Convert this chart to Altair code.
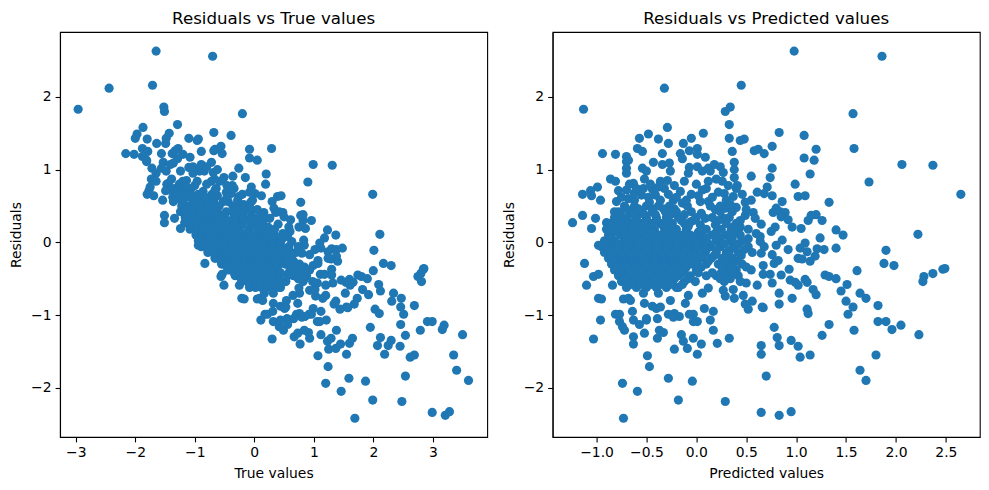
import altair as alt
import pandas as pd

pred_outer = [.98,1.86,1.57,.83,1.08,.76,.68,1.20,1.58,1.08,1.18,2.06,2.37,.76,1.14,.74,1.73,.99,.71,.76,
 .68,1.02,1.09,2.65,.86,1.33,.80,.77,.84,.89,.85,.92,1.12,1.15,1.20,1.26,.65,.96,1.05,.79,
 .75,1.40,1.47,2.22,1.24,.86,1.09,.80,.68,.64,1.04,.92,1.21,1.28,1.40,1.90,1.11,.76,.65,1.02,
 1.06,1.19,1.14,.82,.78,1.88,1.98,.67,.93,1.61,2.47,2.49,2.37,2.28,2.27,.67,.74,.85,1.29,1.33,
 1.40,1.09,1.51,.94,.99,1.02,1.11,.76,1.17,1.45,1.64,.83,1.20,1.70,.96,1.50,.83,1.82,.67,1.57,
 1.11,1.12,1.52,1.82,1.90,1.33,2.05,1.96,1.58,.78,1.26,2.23,.81,.95,1.02,.83,.65,.65,1.14,1.04,
 1.80,.70,1.64,1.70,.65,.83,.95]
res_outer = [2.63,2.56,1.77,1.51,1.47,1.32,1.22,1.28,1.29,1.16,1.13,1.07,1.06,1.02,.94,.89,.83,.80,.76,.64,
 .67,.63,.64,.66,.56,.55,.47,.41,.42,.41,.35,.31,.30,.37,.38,.30,.25,.21,.19,.21,
 .15,.17,.10,.11,.06,.03,-.01,-.04,-.06,.01,-.08,-.10,-.09,-.10,-.08,-.11,-.13,-.17,-.15,-.22,
 -.23,-.19,-.26,-.25,-.29,-.29,-.32,-.32,-.37,-.39,-.37,-.36,-.43,-.47,-.54,-.44,-.44,-.45,-.45,-.47,
 -.50,-.51,-.58,-.52,-.55,-.59,-.55,-.56,-.65,-.67,-.70,-.70,-.72,-.77,-.77,-.81,-.85,-.87,-.90,-.89,
 -.92,-.98,-.99,-1.09,-1.09,-1.13,-1.14,-1.20,-1.21,-1.17,-1.28,-1.27,-1.31,-1.35,-1.43,-1.42,-1.42,-1.54,-1.55,-1.58,
 -1.55,-1.84,-1.76,-1.90,-2.34,-2.38,-2.33]
true_outer = [-1.65,-.70,-.20,-.68,-.39,-.56,-.54,-.08,.29,-.08,.05,.99,1.31,-.26,.20,-.15,.90,.19,-.05,.12,
 .01,.39,.45,1.99,.30,.78,.33,.36,.42,.48,.50,.61,.82,.78,.82,.96,.40,.75,.86,.58,
 .60,1.23,1.37,2.11,1.18,.83,1.10,.84,.74,.63,1.12,1.02,1.30,1.38,1.48,2.01,1.24,.93,.80,1.24,
 1.29,1.38,1.40,1.07,1.07,2.17,2.30,.99,1.30,2.00,2.84,2.85,2.80,2.75,2.81,1.11,1.18,1.30,1.74,1.80,
 1.90,1.60,2.09,1.46,1.54,1.61,1.66,1.32,1.82,2.12,2.34,1.53,1.92,2.47,1.73,2.31,1.68,2.69,1.57,2.46,
 2.03,2.10,2.51,2.91,2.99,2.46,3.19,3.16,2.79,1.95,2.54,3.50,2.12,2.30,2.45,2.25,2.07,2.19,2.69,2.62,
 3.35,2.54,3.40,3.60,2.99,3.21,3.28]

pred_low = [-1.12,-1.03,-.98,-1.10,-.98,-.95,-.96,-1.03,-.81,-.77,-.77,-.74,-.72,-.73,-.68,-.66,-.64,-.63,-.57,-.50,
 -.50,-.52,-.63,-.63,-.49,-.47,-.74,-.59,-.73,-.28,-.04,-.18,.29,-.39,-.37,-.33,-.22,-.15,-.13,-.09,
 -.03,.01,.05,.21,.33,.17,.14,.17,.08,-.03,-.07,-.03,.01,-.17,-.22,-.28,-.23,-.39,-.40,-.44,
 -.36,-.26,-.11,-.52,.66,.56,.52,.49,.47,.38,.29,.37,.27,.06,.12,-.08,-.84,.61,.50,-.53,
 -.38,-.18,-.01]
res_low = [-.29,-.47,-.44,-.59,-.77,-.78,-1.07,-1.33,-.99,-.99,-1.09,-1.16,-1.21,-.78,-.77,-.80,-.95,-1.07,-1.13,-1.05,
 -1.07,-1.25,-1.30,-1.40,-1.56,-1.71,-1.94,-2.05,-2.42,-1.87,-1.91,-2.17,-2.19,-1.32,-1.21,-1.24,-1.47,-1.27,-1.36,-1.46,
 -1.32,-1.54,-1.40,-1.39,-1.32,-1.21,-1.07,-.95,-.91,-.99,-.99,-1.09,-1.09,-1.02,-.98,-.99,-1.03,-1.05,-.91,-.88,
 -.89,-.80,-.84,-.84,-.89,-.81,-.92,-.85,-.73,-.77,-.74,-.65,-.66,-.70,-.63,-.73,-.59,-.59,-.56,-.70,
 -.70,-.62,-.54]
true_low = [-.83,-.56,-.54,-.51,-.21,-.17,.11,.30,.18,.22,.32,.42,.49,.05,.09,.14,.31,.44,.56,.55,
 .57,.73,.67,.77,1.07,1.24,1.20,1.46,1.69,1.59,1.87,1.99,2.48,.93,.84,.91,1.25,1.12,1.23,1.37,
 1.29,1.55,1.45,1.60,1.65,1.38,1.21,1.12,.99,.96,.92,1.06,1.10,.85,.76,.71,.80,.66,.51,.44,
 .53,.54,.73,.32,1.55,1.37,1.44,1.34,1.20,1.15,1.03,1.02,.93,.76,.75,.65,-.25,1.20,1.06,.17,
 .32,.44,.53]

pred_up = [-.32,.45,-1.13,.34,.29,.33,-.29,-.48,-.57,-.38,-.28,.07,-.05,-.13,.33,.44,.48,-.59,-.54,-.94,
 -.81,-.70,-.34,-.16,-.14,-.07,.01,.01,.09,.36,.58,.62,-.70,-.68,-.43,-.34,-.27,.38,-.70,-.70,
 -.54,-.50,-.26,-.07,-.08,.01,.06,.12,.14,.18,.24,.27,.38,-.86,-.81,-.67,-.63,-.52,-.36,-.29,
 .38,.55,.12,.20,0,.41,-.78,-.99,-1.06,-1.14,-1.05,-.96,-.53,-.44,-.32,-.16,-.05,.10,.22,.28,
 .37,.40,.61,.55,.49,.29,.40,-1.14,-1.24,-1.01,-1.05,-.90,-.78,-.98,-.80,-.82,-.68,-.55,-.41,-.23,
 -.14,.04,.12,.19,.05,.04,.09,.57,.49,.59,.27,.19,.44,.52,.64,-.06]
res_up = [2.12,2.16,1.83,1.86,1.80,1.62,1.58,1.49,1.43,1.42,1.36,1.50,1.43,1.36,1.43,1.40,1.42,1.29,1.25,1.22,
 1.21,1.18,1.22,1.22,1.15,1.26,1.29,1.21,1.17,1.25,1.26,1.28,1.11,1.13,1.10,1.07,1.09,1.10,1.02,.95,
 1.02,.98,.98,1.03,.95,1.04,.98,1.02,.98,1.07,1.04,.96,1.00,.87,.84,.80,.81,.87,.84,.85,
 .89,.91,.84,.87,.80,.78,.71,.76,.71,.66,.64,.58,.74,.73,.74,.70,.66,.74,.69,.67,
 .63,.74,.69,.58,.55,.47,.48,.37,.27,.33,.19,.27,.26,-.04,.56,.42,.60,.65,.65,.58,
 .54,.56,.56,.45,.40,.24,.33,.41,.37,.33,.33,.24,.21,.05,.08,.28]
true_up = [-2.44,-1.71,-2.96,-1.52,-1.51,-1.29,-1.87,-1.97,-2.00,-1.80,-1.64,-1.43,-1.48,-1.49,-1.10,-.96,-.94,-1.88,-1.79,-2.16,
 -2.02,-1.88,-1.56,-1.38,-1.29,-1.33,-1.28,-1.20,-1.08,-.89,-.68,-.66,-1.81,-1.81,-1.53,-1.41,-1.36,-.72,-1.72,-1.65,
 -1.56,-1.48,-1.24,-1.10,-1.03,-1.03,-.92,-.90,-.84,-.89,-.80,-.69,-.62,-1.73,-1.65,-1.47,-1.44,-1.39,-1.20,-1.14,
 -.51,-.36,-.72,-.67,-.80,-.37,-1.49,-1.75,-1.77,-1.80,-1.69,-1.54,-1.27,-1.17,-1.06,-.86,-.71,-.64,-.47,-.39,
 -.26,-.34,-.08,-.03,-.06,-.18,-.08,-1.51,-1.51,-1.34,-1.24,-1.17,-1.04,-.94,-1.36,-1.24,-1.28,-1.20,-1.06,-.81,
 -.68,-.52,-.44,-.26,-.35,-.20,-.24,.16,.12,.26,-.06,-.05,.23,.47,.56,-.34]

pred_core = [-.72,-.62,-.50,-.38,-.27,-.09,.14,
 -.78,-.66,-.55,-.44,-.31,-.2,-.05,.24,.36,
 -.82,-.7,-.6,-.5,-.4,-.3,-.18,0,.16,.33,
 -.86,-.75,-.66,-.56,-.46,-.36,-.24,-.12,.3,.4,
 -.9,-.8,-.7,-.6,-.5,-.42,-.3,-.2,-.1,.1,.25,.35,
 -.88,-.76,-.66,-.56,-.47,-.37,-.27,-.16,-.06,.05,.16,.3,.44,
 -.92,-.82,-.72,-.62,-.52,-.42,-.33,-.23,-.13,-.03,.08,.2,.34,.46,
 -.95,-.85,-.75,-.65,-.56,-.46,-.36,-.26,-.16,-.06,.05,.14,.24,.38,.52,
 -.92,-.82,-.72,-.62,-.52,-.42,-.32,-.22,-.12,-.02,.09,.2,.3,.42,.56,
 -.88,-.78,-.68,-.58,-.48,-.38,-.28,-.18,-.08,.04,.15,.26,.36,
 -.85,-.75,-.65,-.55,-.45,-.35,-.25,-.15,-.04,.1,.22,.32,.46,
 -.82,-.72,-.62,-.52,-.42,-.32,-.22,-.12,0,.3,.4,.55,
 -.78,-.68,-.58,-.48,-.38,-.28,-.18,-.06,.1,.2,.3,.42,
 -.75,-.64,-.54,-.44,-.34,-.24,-.12,.28,.44,
 -.7,-.6,-.5,-.4,-.3,-.2]
res_core = [.50]*7 + [.42]*9 + [.34]*10 + [.26]*10 + [.18]*12 + [.10]*13 + [.02]*14 + [-.06]*15 + [-.14]*15 + [-.22]*13 + [-.30]*13 + [-.38]*12 + [-.46]*12 + [-.54]*9 + [-.62]*6
true_core = [-1.22,-1.12,-1.00,-.88,-.77,-.59,-.36,
 -1.20,-1.08,-.97,-.86,-.73,-.62,-.47,-.18,-.06,
 -1.16,-1.04,-.94,-.84,-.74,-.64,-.52,-.34,-.18,-.01,
 -1.12,-1.01,-.92,-.82,-.72,-.62,-.50,-.38,.04,.14,
 -1.08,-.98,-.88,-.78,-.68,-.60,-.48,-.38,-.28,-.08,.07,.17,
 -.98,-.86,-.76,-.66,-.57,-.47,-.37,-.26,-.16,-.05,.06,.20,.34,
 -.94,-.84,-.74,-.64,-.54,-.44,-.35,-.25,-.15,-.05,.06,.18,.32,.44,
 -.89,-.79,-.69,-.59,-.50,-.40,-.30,-.20,-.10,0,.11,.20,.30,.44,.58,
 -.78,-.68,-.58,-.48,-.38,-.28,-.18,-.08,.02,.12,.23,.34,.44,.56,.70,
 -.66,-.56,-.46,-.36,-.26,-.16,-.06,.04,.14,.26,.37,.48,.58,
 -.55,-.45,-.35,-.25,-.15,-.05,.05,.15,.26,.40,.52,.62,.76,
 -.44,-.34,-.24,-.14,-.04,.06,.16,.26,.38,.68,.78,.93,
 -.32,-.22,-.12,-.02,.08,.18,.28,.40,.56,.66,.76,.88,
 -.21,-.10,0,.10,.20,.30,.42,.82,.98,
 -.08,.02,.12,.22,.32,.42]

pred_mid = [-.70,-.58,-.44,-.33,-.22,
 -.76,-.63,-.52,-.41,-.26,-.12,
 -.80,-.70,-.60,-.50,-.40,-.29,-.15,-.03,.22,
 -.85,-.74,-.64,-.54,-.45,-.33,-.25,-.08,.38,
 -.82,-.72,-.62,-.52,-.44,-.32,-.22,-.1,.02,.2,.38,
 -.86,-.7,-.6,-.5,-.42,-.32,-.2,-.1,0,.1,.24,.36,
 -.9,-.78,-.68,-.58,-.48,-.38,-.28,-.18,-.08,.02,.12,.28,.42,
 -.88,-.78,-.7,-.6,-.5,-.4,-.3,-.2,-.1,0,.1,.2,.34,.48,
 -.84,-.74,-.64,-.54,-.44,-.34,-.24,-.14,-.04,.06,.18,.33,.45,
 -.82,-.72,-.62,-.52,-.42,-.32,-.22,-.12,0,.12,.3,.4,
 -.8,-.7,-.6,-.5,-.4,-.3,-.2,-.1,.05,.26,.36,.5,
 -.76,-.66,-.56,-.46,-.36,-.26,-.14,.02,.16,.25,.36,
 -.72,-.62,-.52,-.42,-.32,-.22,-.08,.24,.34,
 -.66,-.56,-.46,-.36,-.26,-.14]
res_mid = [.46]*5 + [.38]*6 + [.30]*9 + [.22]*9 + [.14]*11 + [.06]*12 + [-.02]*13 + [-.10]*14 + [-.18]*13 + [-.26]*12 + [-.34]*12 + [-.42]*11 + [-.50]*9 + [-.58]*6
true_mid = [-1.16,-1.04,-.90,-.79,-.68,
 -1.14,-1.01,-.90,-.79,-.64,-.50,
 -1.10,-1.00,-.90,-.80,-.70,-.59,-.45,-.33,-.08,
 -1.07,-.96,-.86,-.76,-.67,-.55,-.47,-.30,.16,
 -.96,-.86,-.76,-.66,-.58,-.46,-.36,-.24,-.12,.06,.24,
 -.92,-.76,-.66,-.56,-.48,-.38,-.26,-.16,-.06,.04,.18,.30,
 -.88,-.76,-.66,-.56,-.46,-.36,-.26,-.16,-.06,.04,.14,.30,.44,
 -.78,-.68,-.60,-.50,-.40,-.30,-.20,-.10,0,.10,.20,.30,.44,.58,
 -.66,-.56,-.46,-.36,-.26,-.16,-.06,.04,.14,.24,.36,.51,.63,
 -.56,-.46,-.36,-.26,-.16,-.06,.04,.14,.26,.38,.56,.66,
 -.46,-.36,-.26,-.16,-.06,.04,.14,.24,.39,.60,.70,.84,
 -.34,-.24,-.14,-.04,.06,.16,.28,.44,.58,.67,.78,
 -.22,-.12,-.02,.08,.18,.28,.42,.74,.84,
 -.08,.02,.12,.22,.32,.44]

pred_fill = [-.75,-.62,-.48,-.36,-.28,-.62,-.47,-.2,-.1,.02,.16,.3,.24,.34,-.7,-.6,-.46,-.38,-.22,-.12,.06,.32,.26,.46,.5,.44,.52,.6]
res_fill = [.62,.68,.62,.58,.66,.58,.55,.62,.58,.64,.62,.58,.5,.52,.72,.74,.8,.76,.78,.84,.72,.78,.84,.66,.45,.3,.18,.12]
true_fill = [-1.37,-1.30,-1.10,-.94,-.94,-1.20,-1.02,-.82,-.68,-.62,-.46,-.28,-.26,-.18,-1.42,-1.34,-1.26,-1.14,-1.00,-.96,-.66,-.46,-.58,-.20,.05,.14,.34,.48]

true_ticks = [-3, -2, -1, 0, 1, 2, 3]
pred_ticks = [-1.0, -0.5, 0.0, 0.5, 1.0, 1.5, 2.0, 2.5]
res_ticks = [-2, -1, 0, 1, 2]

df = pd.DataFrame({
    "true": true_outer + true_low + true_up + true_core + true_mid + true_fill,
    "pred": pred_outer + pred_low + pred_up + pred_core + pred_mid + pred_fill,
    "res": res_outer + res_low + res_up + res_core + res_mid + res_fill,
})

FONT = "DejaVu Sans"
BLUE = "#1f77b4"
W, H = 427.2, 405


def panel(field, title, xtitle, domain, ticks, fmt):
    return (
        alt.Chart(df, title=alt.TitleParams(title, fontSize=16.67, fontWeight="normal", font=FONT,
                                            color="black", offset=4))
        .mark_circle(size=84, opacity=1, color=BLUE)
        .encode(
            x=alt.X(f"{field}:Q", title=xtitle,
                    scale=alt.Scale(domain=domain, nice=False, zero=False),
                    axis=alt.Axis(values=ticks, format=fmt, titlePadding=7)),
            y=alt.Y("res:Q", title="Residuals",
                    scale=alt.Scale(domain=[-2.678, 2.893], nice=False, zero=False),
                    axis=alt.Axis(values=res_ticks, format="d", titlePadding=7)),
        )
        .properties(width=W, height=H)
    )


left = panel("true", "Residuals vs True values", "True values", [-3.265, 3.914], true_ticks, "d")
right = panel("pred", "Residuals vs Predicted values", "Predicted values", [-1.44, 2.84], pred_ticks, ".1f")

chart = (
    alt.hconcat(left, right, spacing=64.6, bounds="flush")
    .properties(background="white", padding={"left": 1, "top": 2, "right": 0, "bottom": 0})
    .configure_view(stroke="black", strokeWidth=1.1)
    .configure_axis(
        grid=False, labelFont=FONT, titleFont=FONT, labelFontSize=13.9, titleFontSize=13.9,
        titleFontWeight="normal", labelColor="black", titleColor="black",
        domainColor="black", domainWidth=1.1, tickColor="black", tickWidth=1.1, tickSize=4.9,
        labelPadding=4,
    )
)

chart.save("out.html", embed_options={"renderer": "svg", "actions": False})
